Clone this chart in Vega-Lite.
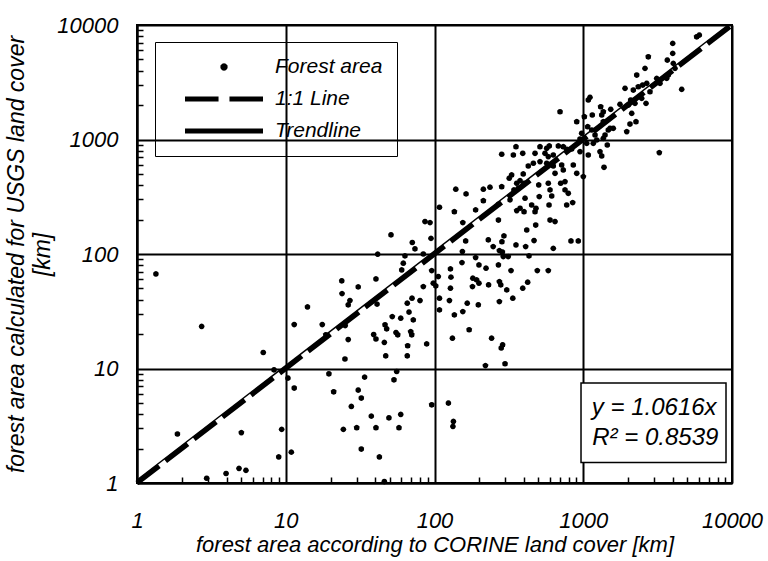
{
  "$schema": "https://vega.github.io/schema/vega-lite/v6.json",
  "width": 595,
  "height": 458,
  "autosize": {"type": "none"},
  "padding": {"left": 137, "top": 25, "right": 36, "bottom": 78},
  "background": "white",
  "config": {
    "view": {"stroke": "black", "strokeWidth": 2},
    "font": "Liberation Sans",
    "axis": {"labelFont": "Liberation Sans", "titleFont": "Liberation Sans", "labelColor": "black", "titleColor": "black", "labelFontStyle": "italic", "titleFontStyle": "italic", "titleFontWeight": "normal", "labelFontSize": 22, "titleFontSize": 22, "labelFlush": false, "labelOverlap": false, "labelBound": false}
  },
  "datasets": {
    "pts": [
      {"corine":1.34,"usgs":67},{"corine":2.72,"usgs":23.3},{"corine":7.06,"usgs":13.8},{"corine":8.34,"usgs":9.74},{"corine":10.35,"usgs":8.25},{"corine":11.4,"usgs":6.75},{"corine":1.87,"usgs":2.68},{"corine":5.03,"usgs":2.75},{"corine":9.39,"usgs":2.94},{"corine":10.9,"usgs":1.86},{"corine":8.97,"usgs":1.69},{"corine":2.94,"usgs":1.1},{"corine":3.97,"usgs":1.21},{"corine":4.85,"usgs":1.34},{"corine":5.4,"usgs":1.29},{"corine":42.6,"usgs":1.69},{"corine":32.2,"usgs":1.98},{"corine":24.4,"usgs":2.94},{"corine":30,"usgs":3.04},{"corine":40.4,"usgs":3.04},{"corine":37.6,"usgs":3.84},{"corine":27.6,"usgs":4.66},{"corine":32.2,"usgs":5.52},{"corine":30.7,"usgs":6.48},{"corine":21,"usgs":6.26},{"corine":19.5,"usgs":8.99},{"corine":33.9,"usgs":8.41},{"corine":25,"usgs":12.1},{"corine":26.3,"usgs":17.9},{"corine":25.1,"usgs":23.7},{"corine":17.6,"usgs":24.2},{"corine":18.6,"usgs":19.7},{"corine":11.4,"usgs":24.2},{"corine":14,"usgs":34.5},{"corine":23.8,"usgs":58.3},{"corine":23.9,"usgs":45.1},{"corine":27,"usgs":39.2},{"corine":26.3,"usgs":36},{"corine":30.7,"usgs":51.6},{"corine":40.4,"usgs":60.6},{"corine":41.1,"usgs":36.5},{"corine":41.5,"usgs":99.6},{"corine":39,"usgs":19.8},{"corine":40.4,"usgs":18.1},{"corine":46,"usgs":1.03},{"corine":49.4,"usgs":3.71},{"corine":57.7,"usgs":3.04},{"corine":59.3,"usgs":3.97},{"corine":95.8,"usgs":4.82},{"corine":124,"usgs":4.99},{"corine":134,"usgs":3.45},{"corine":133,"usgs":3.12},
      {"corine":51,"usgs":147},{"corine":70.9,"usgs":126},{"corine":73.9,"usgs":111},{"corine":86.3,"usgs":192},{"corine":93.3,"usgs":188},{"corine":94.7,"usgs":137},{"corine":108,"usgs":256},{"corine":84.1,"usgs":100},{"corine":63.3,"usgs":96.3},{"corine":61.7,"usgs":83.1},{"corine":60.2,"usgs":72.6},{"corine":95.8,"usgs":71.6},{"corine":84.1,"usgs":51.9},{"corine":98.1,"usgs":55.6},{"corine":102,"usgs":52.7},{"corine":106,"usgs":63.5},{"corine":108,"usgs":41.1},{"corine":108,"usgs":32.5},{"corine":70.6,"usgs":41.1},{"corine":65.6,"usgs":37.2},{"corine":79.9,"usgs":39.2},{"corine":67.4,"usgs":31.1},{"corine":72,"usgs":26.6},{"corine":59.3,"usgs":27.5},{"corine":52,"usgs":28.4},{"corine":46.5,"usgs":24.1},{"corine":47.7,"usgs":22.2},{"corine":55.1,"usgs":20.6},{"corine":56.6,"usgs":19.7},{"corine":69.2,"usgs":21},{"corine":70.3,"usgs":19.7},{"corine":46,"usgs":16.9},{"corine":66,"usgs":15.8},{"corine":88.6,"usgs":16.4},{"corine":47,"usgs":12.9},{"corine":65.6,"usgs":12.9},{"corine":55.7,"usgs":9.41},{"corine":53.4,"usgs":7.97},{"corine":128,"usgs":74.1},{"corine":129,"usgs":62.8},{"corine":128,"usgs":50.3},{"corine":126,"usgs":39.2},{"corine":136,"usgs":29.4},{"corine":155,"usgs":31.4},{"corine":166,"usgs":37.2},{"corine":197,"usgs":36},{"corine":171,"usgs":21.8},{"corine":132,"usgs":18.4},{"corine":153,"usgs":84.1},{"corine":154,"usgs":105},{"corine":162,"usgs":130},{"corine":155,"usgs":188},{"corine":136,"usgs":234},{"corine":139,"usgs":368},{"corine":163,"usgs":335},{"corine":189,"usgs":243},{"corine":213,"usgs":292},{"corine":213,"usgs":368},{"corine":236,"usgs":383},{"corine":189,"usgs":93},{"corine":199,"usgs":80.3},{"corine":181,"usgs":61.5},{"corine":192,"usgs":59.4},{"corine":199,"usgs":55.6},{"corine":180,"usgs":51.9},{"corine":231,"usgs":53.8},{"corine":222,"usgs":75.2},{"corine":269,"usgs":80.3},{"corine":230,"usgs":133},{"corine":269,"usgs":198},{"corine":248,"usgs":116},{"corine":273,"usgs":107},{"corine":284,"usgs":128},{"corine":293,"usgs":144},{"corine":286,"usgs":104},{"corine":290,"usgs":94.9},{"corine":313,"usgs":94.9},{"corine":327,"usgs":71.6},{"corine":273,"usgs":57.4},{"corine":279,"usgs":53.8},{"corine":306,"usgs":48.6},{"corine":336,"usgs":41.1},{"corine":273,"usgs":38.4},{"corine":242,"usgs":18.4},{"corine":287,"usgs":16.1},{"corine":281,"usgs":15.1},{"corine":220,"usgs":10.6},{"corine":298,"usgs":11},{"corine":353,"usgs":120},{"corine":410,"usgs":116},{"corine":467,"usgs":131},{"corine":417,"usgs":162},{"corine":479,"usgs":179},{"corine":392,"usgs":50.3},{"corine":423,"usgs":56.7},{"corine":491,"usgs":71.6},{"corine":582,"usgs":71.6},{"corine":432,"usgs":96.3},{"corine":629,"usgs":112},{"corine":827,"usgs":130},{"corine":926,"usgs":130},{"corine":269,"usgs":272},{"corine":322,"usgs":297},{"corine":283,"usgs":387},{"corine":318,"usgs":459},{"corine":357,"usgs":415},{"corine":376,"usgs":437},{"corine":400,"usgs":415},{"corine":342,"usgs":363},{"corine":366,"usgs":375},{"corine":357,"usgs":239},{"corine":376,"usgs":251},{"corine":400,"usgs":234},{"corine":406,"usgs":307},{"corine":450,"usgs":268},{"corine":481,"usgs":251},{"corine":474,"usgs":234},{"corine":502,"usgs":401},{"corine":506,"usgs":317},{"corine":582,"usgs":415},{"corine":598,"usgs":363},{"corine":589,"usgs":268},{"corine":598,"usgs":198},{"corine":646,"usgs":192},{"corine":614,"usgs":321},{"corine":705,"usgs":415},{"corine":754,"usgs":428},{"corine":754,"usgs":363},{"corine":793,"usgs":339},{"corine":774,"usgs":268},{"corine":849,"usgs":281},{"corine":427,"usgs":587},{"corine":462,"usgs":620},{"corine":395,"usgs":500},{"corine":330,"usgs":490},{"corine":283,"usgs":743},{"corine":339,"usgs":732},{"corine":392,"usgs":758},{"corine":474,"usgs":758},{"corine":553,"usgs":758},{"corine":629,"usgs":732},{"corine":512,"usgs":640},{"corine":568,"usgs":620},{"corine":582,"usgs":708},{"corine":646,"usgs":507},{"corine":629,"usgs":587},{"corine":716,"usgs":599},{"corine":734,"usgs":542},{"corine":857,"usgs":599},{"corine":904,"usgs":507},{"corine":1001,"usgs":474},{"corine":1081,"usgs":732},{"corine":951,"usgs":783},{"corine":1296,"usgs":783},{"corine":1331,"usgs":718},{"corine":1379,"usgs":572},
      {"corine":353,"usgs":865},{"corine":512,"usgs":865},{"corine":568,"usgs":838},{"corine":591,"usgs":878},{"corine":680,"usgs":878},{"corine":734,"usgs":865},{"corine":774,"usgs":821},{"corine":836,"usgs":826},{"corine":698,"usgs":1748},{"corine":904,"usgs":1430},{"corine":1017,"usgs":1581},{"corine":1081,"usgs":2212},{"corine":1110,"usgs":2335},{"corine":1150,"usgs":1636},{"corine":1071,"usgs":1293},{"corine":1140,"usgs":1210},{"corine":1200,"usgs":1095},{"corine":1231,"usgs":990},{"corine":1055,"usgs":926},{"corine":951,"usgs":1010},{"corine":976,"usgs":1133},{"corine":1310,"usgs":1933},{"corine":1364,"usgs":1748},{"corine":1331,"usgs":1636},{"corine":1530,"usgs":1834},{"corine":1364,"usgs":1430},{"corine":1513,"usgs":1252},{"corine":1592,"usgs":1252},{"corine":1474,"usgs":1210},{"corine":1401,"usgs":1095},{"corine":1168,"usgs":926},{"corine":1364,"usgs":1024},{"corine":1451,"usgs":895},{"corine":1766,"usgs":2029},{"corine":2009,"usgs":2000},{"corine":2084,"usgs":2212},{"corine":1909,"usgs":2798},{"corine":2171,"usgs":2704},{"corine":2345,"usgs":2889},{"corine":2510,"usgs":2990},{"corine":2671,"usgs":3094},{"corine":2288,"usgs":3655},{"corine":2601,"usgs":4182},{"corine":2737,"usgs":5278},{"corine":2228,"usgs":2069},{"corine":2471,"usgs":2288},{"corine":2642,"usgs":2069},{"corine":2117,"usgs":1693},{"corine":2062,"usgs":1365},{"corine":2262,"usgs":1430},{"corine":1960,"usgs":1170},{"corine":2810,"usgs":2613},{"corine":3118,"usgs":3420},{"corine":3281,"usgs":3094},{"corine":3639,"usgs":3420},{"corine":3731,"usgs":3655},{"corine":3674,"usgs":4940},{"corine":3994,"usgs":5651},{"corine":3994,"usgs":6909},{"corine":4031,"usgs":4622},{"corine":4138,"usgs":4182},{"corine":4590,"usgs":2742},{"corine":3246,"usgs":767},{"corine":5789,"usgs":7889},{"corine":6030,"usgs":8166}
    ],
    "oneone": [{"corine": 1, "usgs": 1}, {"corine": 10000, "usgs": 10000}],
    "trend": [{"corine": 1, "usgs": 1.0616}, {"corine": 9420, "usgs": 10000}]
  },
  "resolve": {"axis": {"x": "independent", "y": "independent"}},
  "layer": [
    {
      "data": {"name": "pts"},
      "mark": {"type": "point", "filled": true, "color": "black", "opacity": 1, "size": 3600, "strokeWidth": 0},
      "encoding": {
        "x": {"field": "corine", "type": "quantitative",
          "scale": {"type": "log", "domain": [1, 10000], "nice": false},
          "axis": {"orient": "bottom", "values": [1, 10, 100, 1000, 10000], "format": "d", "grid": true, "gridColor": "black", "gridWidth": 2, "gridOpacity": 1, "domainColor": "black", "domainWidth": 2, "ticks": false, "labelPadding": 44, "labelBaseline": "alphabetic", "title": "forest area according to CORINE land cover [km]", "titleY": 68, "titleBaseline": "alphabetic"}},
        "y": {"field": "usgs", "type": "quantitative",
          "scale": {"type": "log", "domain": [1, 10000], "nice": false},
          "axis": {"orient": "left", "values": [1, 10, 100, 1000, 10000], "format": "d", "grid": true, "gridColor": "black", "gridWidth": 2, "gridOpacity": 1, "domainColor": "black", "domainWidth": 2, "ticks": false, "labelPadding": 19, "title": ["forest area calculated for USGS land cover", "[km]"], "titleFontSize": 23, "titleAngle": -90, "titleX": -132, "titleY": 229, "titleAlign": "center", "titleBaseline": "top", "titleLineHeight": 26}},
        "shape": {"datum": "Forest area", "type": "nominal",
          "scale": {"domain": ["Forest area", "1:1 Line", "Trendline"],
            "range": ["M0.095,0L0.0823,0.0475L0.0475,0.0823L0,0.095L-0.0475,0.0823L-0.0823,0.0475L-0.095,0L-0.0823,-0.0475L-0.0475,-0.0823L0,-0.095L0.0475,-0.0823L0.0823,-0.0475Z",
                      "M-1,-0.064H-0.14V0.064H-1Z M0.14,-0.064H1V0.064H0.14Z",
                      "M-1,-0.064H1V0.064H-1Z"]},
          "legend": {"orient": "none", "legendX": 18, "legendY": 17, "title": null, "strokeColor": "black", "padding": 14, "symbolSize": 6084, "symbolOffset": 16, "labelOffset": 12, "clipHeight": 22, "rowPadding": 10, "labelFontSize": 21, "labelFontStyle": "italic", "labelFont": "Liberation Sans", "labelColor": "black", "symbolFillColor": "black", "symbolStrokeWidth": 0}}
      }
    },
    {
      "data": {"name": "oneone"},
      "mark": {"type": "line", "color": "black", "strokeWidth": 5, "strokeDash": [28, 8]},
      "encoding": {
        "x": {"field": "corine", "type": "quantitative",
          "axis": {"orient": "bottom", "values": [2,3,4,5,6,7,8,9,20,30,40,50,60,70,80,90,200,300,400,500,600,700,800,900,2000,3000,4000,5000,6000,7000,8000,9000], "labels": false, "grid": false, "domain": false, "ticks": true, "tickSize": -6, "tickColor": "black", "tickWidth": 1.5, "title": null}},
        "y": {"field": "usgs", "type": "quantitative",
          "axis": {"orient": "left", "values": [2,3,4,5,6,7,8,9,20,30,40,50,60,70,80,90,200,300,400,500,600,700,800,900,2000,3000,4000,5000,6000,7000,8000,9000], "labels": false, "grid": false, "domain": false, "ticks": true, "tickSize": -6, "tickColor": "black", "tickWidth": 1.5, "title": null}}
      }
    },
    {
      "data": {"name": "trend"},
      "mark": {"type": "line", "color": "black", "strokeWidth": 1.5},
      "encoding": {
        "x": {"field": "corine", "type": "quantitative", "axis": null},
        "y": {"field": "usgs", "type": "quantitative", "axis": null}
      }
    },
    {
      "data": {"values": [{}]},
      "mark": {"type": "rect", "fill": "white", "stroke": "black", "strokeWidth": 1.5},
      "encoding": {
        "x": {"datum": 966, "type": "quantitative", "axis": null},
        "x2": {"datum": 9114},
        "y": {"datum": 7.46, "type": "quantitative", "axis": null},
        "y2": {"datum": 1.513}
      }
    },
    {
      "data": {"values": [{}]},
      "mark": {"type": "text", "text": "y = 1.0616x", "font": "Liberation Sans", "fontStyle": "italic", "fontSize": 24, "color": "black", "align": "center", "baseline": "middle"},
      "encoding": {
        "x": {"datum": 3000, "type": "quantitative", "axis": null},
        "y": {"datum": 4.54, "type": "quantitative", "axis": null}
      }
    },
    {
      "data": {"values": [{}]},
      "mark": {"type": "text", "text": "R² = 0.8539", "font": "Liberation Sans", "fontStyle": "italic", "fontSize": 24, "color": "black", "align": "center", "baseline": "middle"},
      "encoding": {
        "x": {"datum": 3050, "type": "quantitative", "axis": null},
        "y": {"datum": 2.48, "type": "quantitative", "axis": null}
      }
    }
  ]
}
